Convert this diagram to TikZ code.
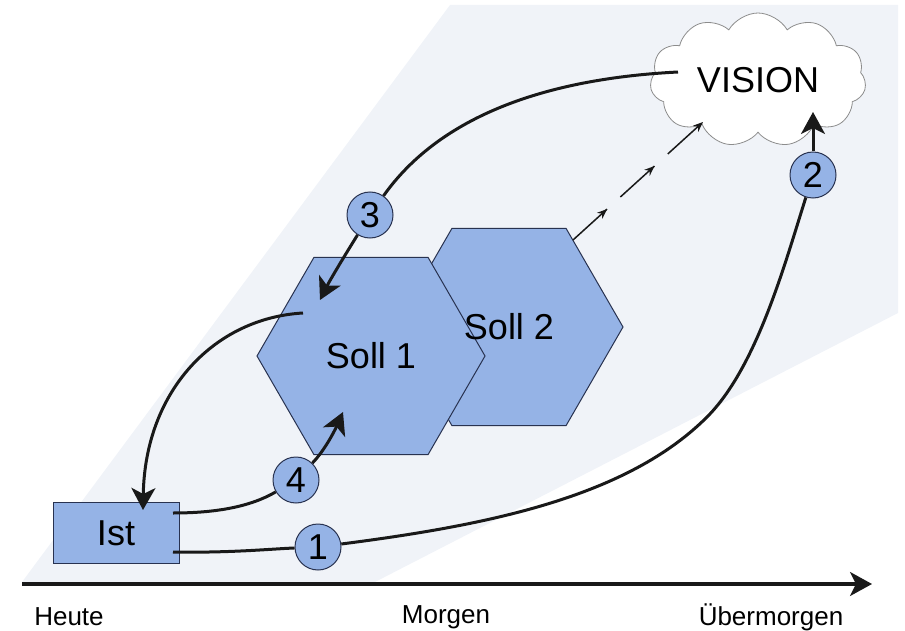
\documentclass[tikz,border=0pt]{standalone}
\usepackage{fontspec}
\setmainfont{Liberation Sans}
\usetikzlibrary{positioning,arrows.meta,shapes.geometric,shapes.symbols,decorations.markings}

\definecolor{sollblue}{RGB}{149,179,230}
\definecolor{edgeblue}{RGB}{40,50,80}
\definecolor{wedgegray}{RGB}{240,243,248}

\begin{document}
\begin{tikzpicture}[
  x=0.5pt, y=-0.5pt,
  >={Stealth[length=11pt,width=12pt,inset=3pt]},
  flow/.style={line width=1.5pt,black!90},
  big/.style={font=\fontsize{18}{20}\selectfont},
  box/.style={rectangle,draw=edgeblue,fill=sollblue,line width=0.5pt,
              minimum width=63pt,minimum height=30.5pt,inner sep=0pt,big},
  hexa/.style={regular polygon,regular polygon sides=6,draw=edgeblue,
               fill=sollblue,line width=0.5pt,minimum size=114pt,inner sep=0pt,big},
  num/.style={circle,draw=edgeblue,fill=sollblue,line width=0.5pt,
              minimum size=23pt,inner sep=0pt,big},
  vision/.style={cloud,cloud puffs=11,cloud puff arc=120,aspect=1.6,
                 draw=black!45,fill=white,line width=0.4pt,
                 minimum width=108pt,minimum height=67pt,inner sep=0pt,big},
  timelabel/.style={font=\fontsize{13}{15}\selectfont},
  dashflow/.style={line width=0.75pt,black!90,dash pattern=on 23pt off 9pt,
    -{Stealth[length=5pt,width=4pt]},
    postaction={decorate},
    decoration={markings,
      mark=at position 23pt with {\arrow{Stealth[length=5pt,width=4pt]}},
      mark=at position 55pt with {\arrow{Stealth[length=5pt,width=4pt]}}}}]

\useasboundingbox (0,0) rectangle (905,631);

% ============ background wedge ============
\fill[wedgegray] (22,582) -- (450,5) -- (898,5) -- (898,313) -- (375,582) -- cycle;

% ============ nodes ============
\node[vision] (vision) at (758,80) {VISION};
\node[hexa] (soll2) at (509,327) {};
\node[hexa] (soll1) at (371,356) {Soll 1};
\node[big] (soll2txt) at (509,327) {Soll 2};
\node[box] (ist) at (116,533) {Ist};

\node[num] (c1) at (318,547) {1};
\node[num] (c2) at (813,175) {2};
\node[num] (c3) at (370,215) {3};
\node[num] (c4) at (296,480) {4};

% free ends of the connectors
\coordinate (istA) at (173,552);
\coordinate (istB) at (173,513);
\coordinate (istC) at (143,510);
\coordinate (visA) at (678,72);
\coordinate (visB) at (813,112);
\coordinate (visC) at (703,122);
\coordinate (sollA) at (320,300);
\coordinate (sollB) at (303,313);
\coordinate (sollC) at (343,412);
\coordinate (sollD) at (573,240);

% ============ path 1 -> 2 (Ist to Vision) ============
\draw[flow] (istA) .. controls (230,553) and (270,549) .. (c1);
\draw[flow] (c1) .. controls (489,525) and (627,497) .. (707,417)
                 .. controls (757,367) and (785,263) .. (c2);
\draw[flow,->] (c2) -- (visB);

% ============ path 3 (Vision to Soll 1) ============
\draw[flow] (visA) .. controls (520,80) and (430,130) .. (c3);
\draw[flow,->] (c3) .. controls (345,255) and (330,280) .. (sollA);

% Soll 1 back to Ist
\draw[flow,->] (sollB) .. controls (215,318) and (145,390) .. (istC);

% ============ path 4 (Ist to Soll 1) ============
\draw[flow] (istB) .. controls (215,513) and (250,507) .. (c4);
\draw[flow,->] (c4) .. controls (325,450) and (335,430) .. (sollC);

% Soll 2 towards Vision (dashed)
\draw[dashflow] (sollD) -- (visC);

% ============ time axis ============
\coordinate (axL) at (22,584);
\coordinate (axR) at (872,584);
\draw[flow,->,line width=1.6pt] (axL) -- (axR);
\node[timelabel] (heute) at (69,617) {Heute};
\node[timelabel] (morgen) at (446,617) {Morgen};
\node[timelabel] (uebermorgen) at (771,617) {Übermorgen};

\end{tikzpicture}
\end{document}
